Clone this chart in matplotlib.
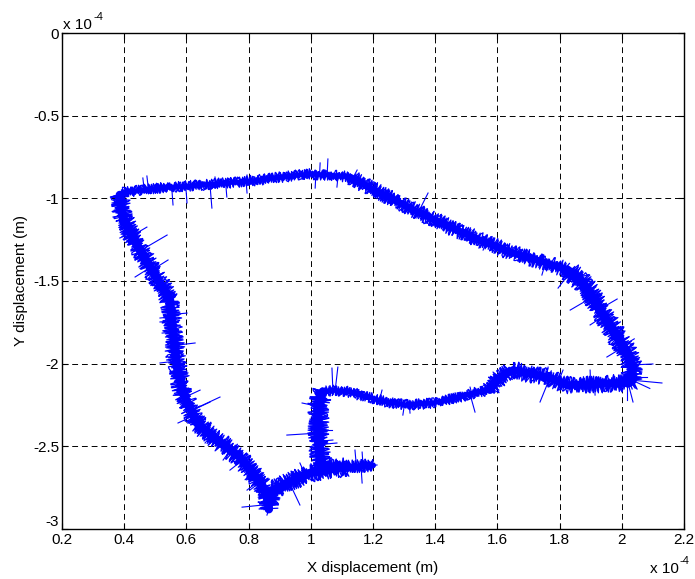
import numpy as np
import matplotlib
matplotlib.use("Agg")
from matplotlib import pyplot as plt

# all coordinates in units of 1e-4 m
# centre line of the trajectory, piece by piece
top_left_x = [0.386, 0.403, 0.515, 0.644, 0.805, 0.933, 0.997, 1.062, 1.126]
top_left_y = [-0.98, -0.962, -0.938, -0.92, -0.895, -0.865, -0.853, -0.859, -0.871]

top_right_x = [1.126, 1.174, 1.222, 1.287, 1.351, 1.448, 1.544, 1.65, 1.76, 1.824]
top_right_y = [-0.871, -0.92, -0.968, -1.028, -1.089, -1.174, -1.252, -1.331, -1.391, -1.434]

right_x = [1.824, 1.866, 1.898, 1.93, 1.972, 2.017, 2.033, 2.033, 2.02]
right_y = [-1.434, -1.494, -1.573, -1.676, -1.797, -1.936, -2.008, -2.1, -2.117]

bump_x = [2.02, 1.994, 1.9, 1.824, 1.76, 1.7, 1.65, 1.608, 1.576]
bump_y = [-2.117, -2.117, -2.125, -2.13, -2.081, -2.06, -2.039, -2.081, -2.16]

lower_x = [1.576, 1.54, 1.502, 1.393, 1.309, 1.245, 1.181, 1.126, 1.071, 1.039]
lower_y = [-2.16, -2.17, -2.19, -2.238, -2.25, -2.232, -2.202, -2.172, -2.16, -2.172]

vert_x = [1.039, 1.03, 1.023, 1.023, 1.03, 1.036]
vert_y = [-2.172, -2.2, -2.263, -2.42, -2.565, -2.62]

stub_x = [1.036, 1.1, 1.16, 1.2]
stub_y = [-2.63, -2.63, -2.62, -2.615]

left_x = [0.386, 0.386, 0.396, 0.419, 0.451, 0.483, 0.515, 0.547, 0.557, 0.57,
          0.589, 0.634, 0.698, 0.772, 0.843, 0.862, 0.865]
left_y = [-0.98, -1.01, -1.113, -1.21, -1.313, -1.416, -1.512, -1.615, -1.815, -2.021,
          -2.178, -2.359, -2.462, -2.565, -2.734, -2.825, -2.88]

bottom_x = [0.865, 0.878, 0.94, 0.997, 1.071, 1.12]
bottom_y = [-2.85, -2.765, -2.71, -2.662, -2.632, -2.625]

# tips of the noise spikes sticking out of the band
spike_x = [0.538, 0.361, 0.364, 0.364, 0.386, 0.435, 0.435, 0.541, 0.602, 0.522,
           0.515, 0.522, 0.628, 0.473, 0.515, 0.515, 0.708, 0.676, 0.573, 0.66,
           0.718, 0.74, 0.804, 0.644,
           0.779, 0.965, 0.795, 0.859,
           1.213, 1.142, 1.165, 1.165, 1.084, 0.923, 0.965, 0.972, 1.068, 1.071,
           1.068, 1.087,
           1.229, 1.296, 1.319, 1.528, 1.512, 1.586, 1.65, 1.737, 1.763, 1.811,
           1.898, 1.914,
           1.795, 1.834, 1.985, 1.898, 1.952, 2.1, 2.129, 2.017, 2.036, 1.743,
           2.04, 1.92, 2.08, 2.09,
           1.03, 1.055, 1.014, 1.084, 1.149, 1.248, 1.377, 1.341, 1.415, 1.512,
           1.554, 0.46, 0.473, 0.557, 0.602, 0.682, 0.692, 0.73, 0.795, 0.795]
spike_y = [-1.222, -1.028, -1.083, -1.113, -1.24, -1.373, -1.476, -1.373, -1.694, -1.658,
           -1.748, -1.815, -1.875, -1.174, -1.724, -1.996, -2.202, -2.232, -2.359, -2.48,
           -2.583, -2.644, -2.765, -2.16,
           -2.868, -2.855, -2.765, -2.916,
           -2.613, -2.523, -2.535, -2.722, -2.48, -2.432, -2.601, -2.238, -2.402, -2.462,
           -2.027, -2.021,
           -2.16, -2.311, -2.299, -2.293, -2.142, -2.051, -1.99, -2.232, -2.021, -2.039,
           -2.039, -2.19,
           -1.543, -1.676, -1.609, -1.766, -1.96, -2.002, -2.117, -2.22, -2.232, -1.464,
           -1.85, -1.7, -2.08, -2.15,
           -0.786, -0.762, -0.938, -0.932, -0.829, -1.028, -0.968, -1.119, -1.174, -1.27,
           -1.313, -0.877, -0.865, -1.04, -1.028, -1.059, -0.871, -0.992, -0.968, -0.859]

xticks = [0.2, 0.4, 0.6, 0.8, 1, 1.2, 1.4, 1.6, 1.8, 2, 2.2]
yticks = [0, -0.5, -1, -1.5, -2, -2.5, -3]

plt.rcParams['font.family'] = ['Liberation Sans', 'DejaVu Sans']
plt.rcParams['font.size'] = 11

BLUE = '#0000ff'

fig = plt.figure(figsize=(6.95, 5.79), dpi=100)
ax = fig.add_axes([0.0892, 0.0864, 0.8950, 0.8566])

# (x, y, band width in points)
pieces = [(top_left_x, top_left_y, 5.5), (top_right_x, top_right_y, 8),
          (right_x, right_y, 11), (bump_x, bump_y, 9), (lower_x, lower_y, 5.5),
          (vert_x, vert_y, 11), (stub_x, stub_y, 7), (left_x, left_y, 10),
          (bottom_x, bottom_y, 10)]
for px, py, lw in pieces:
    # solid core of the band
    ax.plot(px, py, color=BLUE, lw=lw * 0.62, solid_joinstyle='round',
            solid_capstyle='round', zorder=3)
    # dense jitter texture around it (rendering effect only)
    for amp, seg in ((lw * 0.8, 2.0), (lw * 1.0, 3.0), (lw * 0.6, 1.5),
                     (lw * 0.9, 2.5)):
        ln, = ax.plot(px, py, color=BLUE, lw=0.9, zorder=3)
        ln.set_sketch_params(scale=amp, length=seg, randomness=4)

# base of each spike = nearest point on the centre line (distance in pixel-ish scale)
segs = []
for px, py, _ in pieces:
    for i in range(len(px) - 1):
        segs.append((px[i], py[i], px[i + 1], py[i + 1]))
segs = np.array(segs)
sx, sy = 311.0, 165.3
for tx, ty in zip(spike_x, spike_y):
    ax_, ay_, bx_, by_ = segs.T
    dx, dy = (bx_ - ax_) * sx, (by_ - ay_) * sy
    qx, qy = (tx - ax_) * sx, (ty - ay_) * sy
    t = np.clip((qx * dx + qy * dy) / np.maximum(dx * dx + dy * dy, 1e-9), 0, 1)
    d = (qx - t * dx) ** 2 + (qy - t * dy) ** 2
    k = np.argmin(d)
    bx = ax_[k] + t[k] * (bx_[k] - ax_[k])
    by = ay_[k] + t[k] * (by_[k] - ay_[k])
    ax.plot([bx, tx], [by, ty], color=BLUE, lw=0.8, zorder=3)

ax.set_xlim(0.2, 2.2)
ax.set_ylim(-3, 0)
ax.set_xticks(xticks)
ax.set_xticklabels(['%g' % v for v in xticks])
ax.set_yticks(yticks)
ax.set_yticklabels(['%g' % v for v in yticks])
ax.tick_params(direction='in', length=4, width=0.8, top=True, right=True,
               labelsize=11)
ax.tick_params(axis='x', pad=3)
ax.tick_params(axis='y', pad=2)
ax.get_yticklabels()[-1].set_va('bottom')
ax.grid(True, color='black', lw=0.7, linestyle=(0, (6, 4)))
ax.set_axisbelow(True)
for s in ax.spines.values():
    s.set_linewidth(1.0)

ax.set_xlabel('X displacement (m)', fontsize=11)
ax.xaxis.set_label_coords(0.5, -0.064)
ax.set_ylabel('Y displacement (m)', fontsize=11)
ax.yaxis.set_label_coords(-0.054, 0.5)

# exponent labels, MATLAB style
fig.text(63 / 695, 1 - 29 / 579, 'x 10', fontsize=11, va='baseline', ha='left')
fig.text(93 / 695, 1 - 20 / 579, '-4', fontsize=8, va='baseline', ha='left')
fig.text(650 / 695, 1 - 573 / 579, 'x 10', fontsize=11, va='baseline', ha='left')
fig.text(680 / 695, 1 - 564 / 579, '-4', fontsize=8, va='baseline', ha='left')

fig.savefig('out.png', dpi=100)
